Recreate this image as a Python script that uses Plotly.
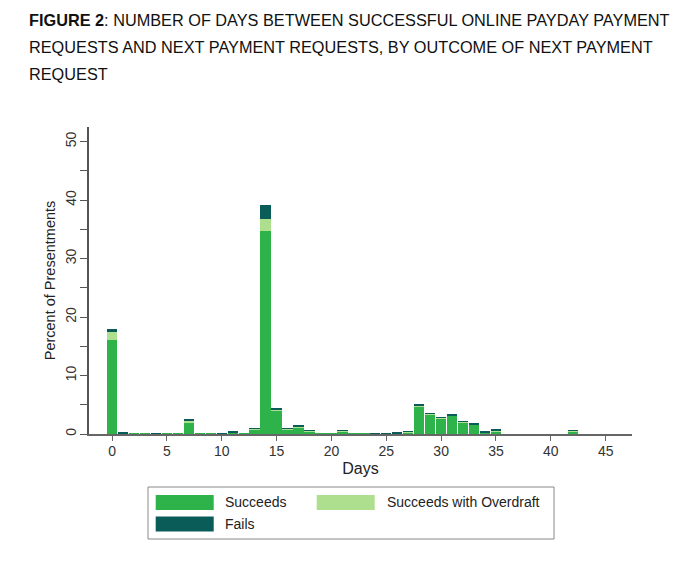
import plotly.graph_objects as go

days = list(range(0, 43))
succeeds = [16.0, 0.15, 0.05, 0.08, 0.12, 0.03, 0.05, 1.95, 0.1, 0.05,
            0.1, 0.3, 0.05, 0.85, 34.8, 4.0, 0.8, 1.15, 0.45, 0.1,
            0.08, 0.4, 0.05, 0.08, 0.1, 0.07, 0.1, 0.3, 4.7, 3.4,
            2.7, 3.1, 2.0, 1.6, 0.3, 0.5, 0.0, 0.0, 0.0, 0.0,
            0.0, 0.0, 0.45]
overdraft = [1.4, 0.01, 0.0, 0.0, 0.01, 0.0, 0.0, 0.3, 0.0, 0.0,
             0.0, 0.03, 0.0, 0.12, 1.9, 0.15, 0.08, 0.05, 0.1, 0.0,
             0.0, 0.12, 0.0, 0.0, 0.0, 0.0, 0.05, 0.05, 0.15, 0.1,
             0.08, 0.1, 0.1, 0.05, 0.04, 0.05, 0.0, 0.0, 0.0, 0.0,
             0.0, 0.0, 0.12]
fails = [0.5, 0.02, 0.0, 0.0, 0.01, 0.0, 0.0, 0.15, 0.0, 0.0,
         0.05, 0.2, 0.0, 0.02, 2.45, 0.35, 0.02, 0.2, 0.02, 0.0,
         0.0, 0.02, 0.0, 0.0, 0.02, 0.05, 0.05, 0.02, 0.2, 0.05,
         0.02, 0.25, 0.05, 0.15, 0.02, 0.2, 0.0, 0.0, 0.0, 0.0,
         0.0, 0.0, 0.02]

series_names = ["Succeeds", "Succeeds with Overdraft", "Fails"]
colors = ["#2db34a", "#addf8f", "#0a5c58"]

x_ticks = list(range(0, 50, 5))
y_ticks = list(range(0, 55, 5))
y_ticktext = [str(v) if v % 10 == 0 else "" for v in y_ticks]

FONT = "Liberation Sans, Arial, sans-serif"

fig = go.Figure()
for name, vals, col in zip(series_names, [succeeds, overdraft, fails], colors):
    fig.add_trace(go.Bar(x=days, y=vals, name=name, marker_color=col,
                         marker_line_width=0, width=0.94, showlegend=False))

# page body has an 8px margin: shrink the figure and shift all pixel positions
OFF = 8
W, H = 700 - OFF, 561 - OFF
L, R, T, B = 89 - OFF, 632 - OFF, 127 - OFF, 434 - OFF


def px(x):
    return (x - OFF - L) / (R - L)


def py(y):
    return (B - (y - OFF)) / (B - T)


fig.update_layout(
    width=W, height=H,
    margin=dict(l=L, r=W - R, t=T, b=H - B, pad=0),
    barmode="stack", bargap=0,
    plot_bgcolor="white", paper_bgcolor="white",
    font=dict(family=FONT, size=14, color="#222"),
    xaxis=dict(range=[-2.1, 47.4], tickvals=x_ticks, showline=True,
               linecolor="#666", linewidth=1.5, ticks="outside", ticklen=5,
               tickcolor="#666", showgrid=False, zeroline=False,
               ticklabelstandoff=-2,
               title=dict(text="Days", font=dict(size=16, color="#222"), standoff=5),
               tickfont=dict(size=14, color="#333")),
    yaxis=dict(range=[0, 52.5], tickvals=y_ticks, ticktext=y_ticktext,
               tickangle=-90, showline=True, linecolor="#555", linewidth=1.5,
               ticks="outside", ticklen=7, tickcolor="#555", showgrid=False,
               zeroline=False, ticklabelstandoff=-1,
               title=dict(text="Percent of Presentments", font=dict(size=14.5, color="#222"), standoff=4),
               tickfont=dict(size=14, color="#333")),
)

# Title
title_lines = ["<b>FIGURE 2</b>: NUMBER OF DAYS BETWEEN SUCCESSFUL ONLINE PAYDAY PAYMENT",
               "REQUESTS AND NEXT PAYMENT REQUESTS, BY OUTCOME OF NEXT PAYMENT",
               "REQUEST"]
for i, line in enumerate(title_lines):
    fig.add_annotation(text=line, xref="paper", yref="paper",
                       x=px(27), y=py(20 + 27 * i), xanchor="left", yanchor="middle",
                       showarrow=False, font=dict(family=FONT, size=16.3, color="#111"))

# Legend box
fig.add_shape(type="rect", xref="paper", yref="paper",
              x0=px(148), x1=px(554), y0=py(487), y1=py(539),
              line=dict(color="#888", width=1), fillcolor="white")
legend_items = [(155.7, 502.5, 223), (316.7, 502.5, 385), (155.7, 524, 223)]
for (sx, sy, tx), name, col in zip(legend_items, series_names, colors):
    fig.add_shape(type="rect", xref="paper", yref="paper",
                  x0=px(sx), x1=px(sx + 58), y0=py(sy - 7.5), y1=py(sy + 7.5),
                  line=dict(width=0), fillcolor=col)
    fig.add_annotation(text=name, xref="paper", yref="paper", x=px(tx), y=py(sy),
                       xanchor="left", yanchor="middle", showarrow=False,
                       font=dict(family=FONT, size=14, color="#222"))

fig.write_html("out.html")
